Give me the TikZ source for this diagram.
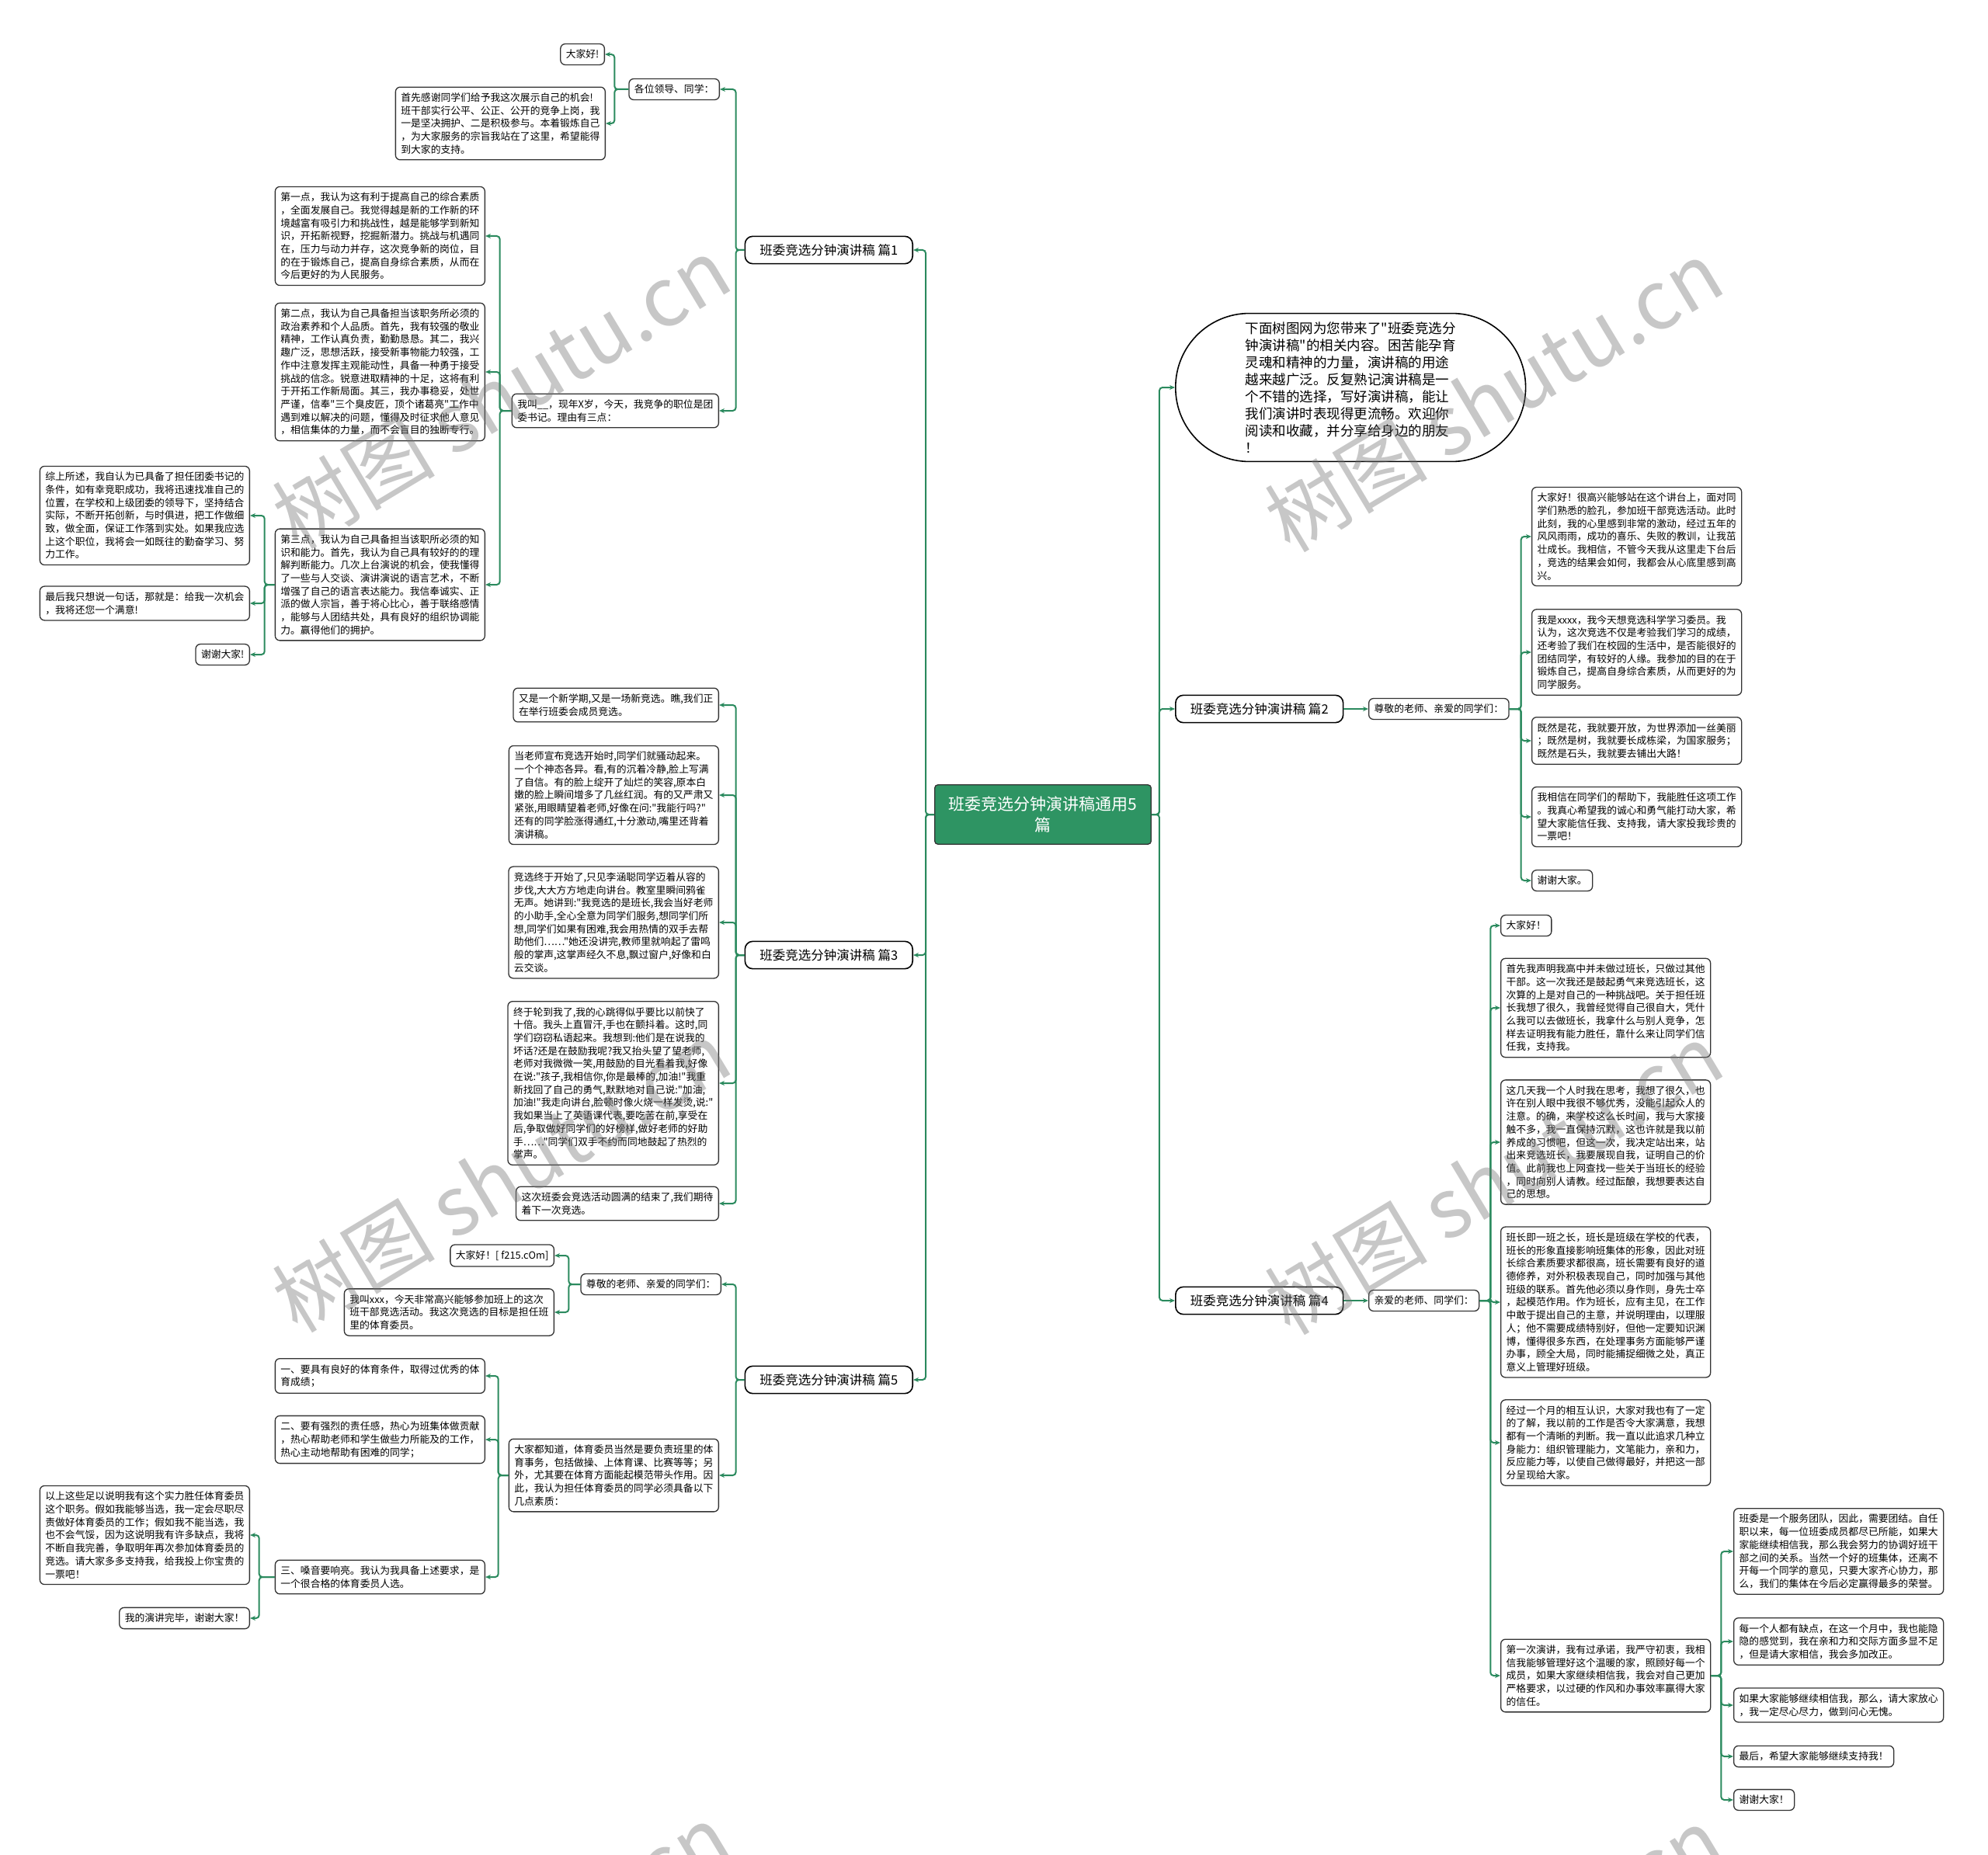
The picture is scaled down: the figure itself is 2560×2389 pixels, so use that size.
\documentclass[tikz,border=0pt]{standalone}
\usepackage{fontspec}
\setmainfont{Noto Sans CJK SC}[Ligatures=TeXOff]
\usepackage{tikz}
\usetikzlibrary{arrows.meta}
\definecolor{mapgreen}{HTML}{2B8A5E}
\definecolor{rootgreen}{HTML}{2E9463}
\definecolor{boxline}{HTML}{333333}
\tikzset{
  root/.style={rounded corners=4pt, draw=boxline, line width=1.3pt, fill=rootgreen,
    text=white, align=center, inner xsep=18pt, inner ysep=15pt, font=\fontsize{21}{27}\selectfont},
  topic/.style={rounded corners=10pt, draw=black, line width=1.6pt, fill=white,
    inner xsep=19pt, inner ysep=10pt, font=\fontsize{16.5}{20}\selectfont},
  intro/.style={rounded corners=95pt, draw=black, line width=1.6pt, fill=white,
    align=left, inner xsep=90pt, inner ysep=11pt, font=\fontsize{17.5}{22}\selectfont},
  leaf/.style={rounded corners=6pt, draw=boxline, line width=1.3pt, fill=white,
    align=left, inner xsep=7pt, inner ysep=7.5pt, font=\fontsize{12.8}{16.7}\selectfont},
  link/.style={-{Stealth[length=7pt,width=6pt]}, line width=2pt, draw=mapgreen, rounded corners=4pt},
  wmark/.style={rotate=31, text=black!55, text opacity=0.4, font=\fontsize{105}{110}\selectfont},
}

\begin{document}
\begin{tikzpicture}[x=1pt,y=-1pt]
\useasboundingbox (0,0) rectangle (2560,2389);

% ---------- centre ----------
\node[root] (root) at (1343,1049) {班委竞选分钟演讲稿通用5\\篇};
\node[topic, anchor=east] (p1) at (1176,322) {班委竞选分钟演讲稿 篇1};
\node[topic, anchor=east] (p3) at (1176,1230) {班委竞选分钟演讲稿 篇3};
\node[topic, anchor=east] (p5) at (1176,1777) {班委竞选分钟演讲稿 篇5};
\node[intro, anchor=west] (intro) at (1513,499) {下面树图网为您带来了"班委竞选分\\钟演讲稿"的相关内容。困苦能孕育\\灵魂和精神的力量，演讲稿的用途\\越来越广泛。反复熟记演讲稿是一\\个不错的选择，写好演讲稿，能让\\我们演讲时表现得更流畅。欢迎你\\阅读和收藏，并分享给身边的朋友\\！};
\node[topic, anchor=west] (p2) at (1513,913) {班委竞选分钟演讲稿 篇2};
\node[topic, anchor=west] (p4) at (1513,1675) {班委竞选分钟演讲稿 篇4};
\foreach \c in {p1,p3,p5}
  \draw[link] (root.west) -- ++(-11,0) |- (\c.east);
\foreach \c in {intro,p2,p4}
  \draw[link] (root.east) -- ++(10,0) |- (\c.west);

% ---------- 篇1 ----------
\node[leaf, anchor=east] (p1a) at (927,115) {各位领导、同学：};
\node[leaf, anchor=east] (p1a1) at (779,70) {大家好!};
\node[leaf, anchor=east] (p1a2) at (780,159) {首先感谢同学们给予我这次展示自己的机会!\\班干部实行公平、公正、公开的竞争上岗，我\\一是坚决拥护、二是积极参与。本着锻炼自己\\，为大家服务的宗旨我站在了这里，希望能得\\到大家的支持。};
\node[leaf, anchor=east] (p1b) at (926,529) {我叫\_\_，现年X岁，今天，我竞争的职位是团\\委书记。理由有三点：};
\node[leaf, anchor=east] (p1b1) at (625,304) {第一点，我认为这有利于提高自己的综合素质\\，全面发展自己。我觉得越是新的工作新的环\\境越富有吸引力和挑战性，越是能够学到新知\\识，开拓新视野，挖掘新潜力。挑战与机遇同\\在，压力与动力并存，这次竞争新的岗位，目\\的在于锻炼自己，提高自身综合素质，从而在\\今后更好的为人民服务。};
\node[leaf, anchor=east] (p1b2) at (625,479) {第二点，我认为自己具备担当该职务所必须的\\政治素养和个人品质。首先，我有较强的敬业\\精神，工作认真负责，勤勤恳恳。其二，我兴\\趣广泛，思想活跃，接受新事物能力较强，工\\作中注意发挥主观能动性，具备一种勇于接受\\挑战的信念。锐意进取精神的十足，这将有利\\于开拓工作新局面。其三，我办事稳妥，处世\\严谨，信奉"三个臭皮匠，顶个诸葛亮"工作中\\遇到难以解决的问题，懂得及时征求他人意见\\，相信集体的力量，而不会盲目的独断专行。};
\node[leaf, anchor=east] (p1b3) at (625,753) {第三点，我认为自己具备担当该职所必须的知\\识和能力。首先，我认为自己具有较好的的理\\解判断能力。几次上台演说的机会，使我懂得\\了一些与人交谈、演讲演说的语言艺术，不断\\增强了自己的语言表达能力。我信奉诚实、正\\派的做人宗旨，善于将心比心，善于联络感情\\，能够与人团结共处，具有良好的组织协调能\\力。赢得他们的拥护。};
\node[leaf, anchor=east] (p1c1) at (322,664) {综上所述，我自认为已具备了担任团委书记的\\条件，如有幸竞职成功，我将迅速找准自己的\\位置，在学校和上级团委的领导下，坚持结合\\实际，不断开拓创新，与时俱进，把工作做细\\致，做全面，保证工作落到实处。如果我应选\\上这个职位，我将会一如既往的勤奋学习、努\\力工作。};
\node[leaf, anchor=east] (p1c2) at (322,777) {最后我只想说一句话，那就是：给我一次机会\\，我将还您一个满意!};
\node[leaf, anchor=east] (p1c3) at (322,843) {谢谢大家!};
\foreach \c in {p1a,p1b}
  \draw[link] (p1.west) -- ++(-11,0) |- (\c.east);
\foreach \c in {p1a1,p1a2}
  \draw[link] (p1a.west) -- ++(-18,0) |- (\c.east);
\foreach \c in {p1b1,p1b2,p1b3}
  \draw[link] (p1b.west) -- ++(-15,0) |- (\c.east);
\foreach \c in {p1c1,p1c2,p1c3}
  \draw[link] (p1b3.west) -- ++(-13,0) |- (\c.east);

% ---------- 篇3 ----------
\node[leaf, anchor=east] (p3a) at (926,908) {又是一个新学期,又是一场新竞选。瞧,我们正\\在举行班委会成员竞选。};
\node[leaf, anchor=east] (p3b) at (926,1024) {当老师宣布竞选开始时,同学们就骚动起来。\\一个个神态各异。看,有的沉着冷静,脸上写满\\了自信。有的脸上绽开了灿烂的笑容,原本白\\嫩的脸上瞬间增多了几丝红润。有的又严肃又\\紧张,用眼睛望着老师,好像在问:"我能行吗?"\\还有的同学脸涨得通红,十分激动,嘴里还背着\\演讲稿。};
\node[leaf, anchor=east] (p3c) at (926,1188) {竞选终于开始了,只见李涵聪同学迈着从容的\\步伐,大大方方地走向讲台。教室里瞬间鸦雀\\无声。她讲到:"我竞选的是班长,我会当好老师\\的小助手,全心全意为同学们服务,想同学们所\\想,同学们如果有困难,我会用热情的双手去帮\\助他们……"她还没讲完,教师里就响起了雷鸣\\般的掌声,这掌声经久不息,飘过窗户,好像和白\\云交谈。};
\node[leaf, anchor=east] (p3d) at (926,1395) {终于轮到我了,我的心跳得似乎要比以前快了\\十倍。我头上直冒汗,手也在颤抖着。这时,同\\学们窃窃私语起来。我想到:他们是在说我的\\坏话?还是在鼓励我呢?我又抬头望了望老师,\\老师对我微微一笑,用鼓励的目光看着我,好像\\在说:"孩子,我相信你,你是最棒的,加油!"我重\\新找回了自己的勇气,默默地对自己说:"加油,\\加油!"我走向讲台,脸顿时像火烧一样发烫,说:"\\我如果当上了英语课代表,要吃苦在前,享受在\\后,争取做好同学们的好榜样,做好老师的好助\\手……"同学们双手不约而同地鼓起了热烈的\\掌声。};
\node[leaf, anchor=east] (p3e) at (926,1550) {这次班委会竞选活动圆满的结束了,我们期待\\着下一次竞选。};
\foreach \c in {p3a,p3b,p3c,p3d,p3e}
  \draw[link] (p3.west) -- ++(-11,0) |- (\c.east);

% ---------- 篇5 ----------
\node[leaf, anchor=east] (p5a) at (929,1654) {尊敬的老师、亲爱的同学们：};
\node[leaf, anchor=east] (p5a1) at (714,1617) {大家好！[ f215.cOm]};
\node[leaf, anchor=east] (p5a2) at (714,1690) {我叫xxx，今天非常高兴能够参加班上的这次\\班干部竞选活动。我这次竞选的目标是担任班\\里的体育委员。};
\node[leaf, anchor=east] (p5b) at (926,1900) {大家都知道，体育委员当然是要负责班里的体\\育事务，包括做操、上体育课、比赛等等；另\\外，尤其要在体育方面能起模范带头作用。因\\此，我认为担任体育委员的同学必须具备以下\\几点素质：};
\node[leaf, anchor=east] (p5b1) at (625,1772) {一、要具有良好的体育条件，取得过优秀的体\\育成绩；};
\node[leaf, anchor=east] (p5b2) at (625,1854) {二、要有强烈的责任感，热心为班集体做贡献\\，热心帮助老师和学生做些力所能及的工作，\\热心主动地帮助有困难的同学；};
\node[leaf, anchor=east] (p5b3) at (625,2031) {三、嗓音要响亮。我认为我具备上述要求，是\\一个很合格的体育委员人选。};
\node[leaf, anchor=east] (p5c1) at (322,1977) {以上这些足以说明我有这个实力胜任体育委员\\这个职务。假如我能够当选，我一定会尽职尽\\责做好体育委员的工作；假如我不能当选，我\\也不会气馁，因为这说明我有许多缺点，我将\\不断自我完善，争取明年再次参加体育委员的\\竞选。请大家多多支持我，给我投上你宝贵的\\一票吧！};
\node[leaf, anchor=east] (p5c2) at (322,2084) {我的演讲完毕，谢谢大家！};
\foreach \c in {p5a,p5b}
  \draw[link] (p5.west) -- ++(-11,0) |- (\c.east);
\foreach \c in {p5a1,p5a2}
  \draw[link] (p5a.west) -- ++(-15,0) |- (\c.east);
\foreach \c in {p5b1,p5b2,p5b3}
  \draw[link] (p5b.west) -- ++(-13,0) |- (\c.east);
\foreach \c in {p5c1,p5c2}
  \draw[link] (p5b3.west) -- ++(-20,0) |- (\c.east);

% ---------- 篇2 ----------
\node[leaf, anchor=west] (p2a) at (1762,913) {尊敬的老师、亲爱的同学们：};
\node[leaf, anchor=west] (p2a1) at (1972,691) {大家好！很高兴能够站在这个讲台上，面对同\\学们熟悉的脸孔，参加班干部竞选活动。此时\\此刻，我的心里感到非常的激动，经过五年的\\风风雨雨，成功的喜乐、失败的教训，让我茁\\壮成长。我相信，不管今天我从这里走下台后\\，竞选的结果会如何，我都会从心底里感到高\\兴。};
\node[leaf, anchor=west] (p2a2) at (1972,840) {我是xxxx，我今天想竞选科学学习委员。我\\认为，这次竞选不仅是考验我们学习的成绩，\\还考验了我们在校园的生活中，是否能很好的\\团结同学，有较好的人缘。我参加的目的在于\\锻炼自己，提高自身综合素质，从而更好的为\\同学服务。};
\node[leaf, anchor=west] (p2a3) at (1972,954) {既然是花，我就要开放，为世界添加一丝美丽\\；既然是树，我就要长成栋梁，为国家服务；\\既然是石头，我就要去铺出大路！};
\node[leaf, anchor=west] (p2a4) at (1972,1052) {我相信在同学们的帮助下，我能胜任这项工作\\。我真心希望我的诚心和勇气能打动大家，希\\望大家能信任我、支持我，请大家投我珍贵的\\一票吧！};
\node[leaf, anchor=west] (p2a5) at (1972,1134) {谢谢大家。};
\draw[link] (p2.east) -- (p2a.west);
\foreach \c in {p2a1,p2a2,p2a3,p2a4,p2a5}
  \draw[link] (p2a.east) -- ++(15,0) |- (\c.west);

% ---------- 篇4 ----------
\node[leaf, anchor=west] (p4a) at (1762,1675) {亲爱的老师、同学们：};
\node[leaf, anchor=west] (p4a1) at (1932,1192) {大家好！};
\node[leaf, anchor=west] (p4a2) at (1932,1298) {首先我声明我高中并未做过班长，只做过其他\\干部。这一次我还是鼓起勇气来竞选班长，这\\次算的上是对自己的一种挑战吧。关于担任班\\长我想了很久，我曾经觉得自己很自大，凭什\\么我可以去做班长，我拿什么与别人竞争，怎\\样去证明我有能力胜任，靠什么来让同学们信\\任我，支持我。};
\node[leaf, anchor=west] (p4a3) at (1932,1471) {这几天我一个人时我在思考，我想了很久，也\\许在别人眼中我很不够优秀，没能引起众人的\\注意。的确，来学校这么长时间，我与大家接\\触不多，我一直保持沉默，这也许就是我以前\\养成的习惯吧，但这一次，我决定站出来，站\\出来竞选班长，我要展现自我，证明自己的价\\值。此前我也上网查找一些关于当班长的经验\\，同时向别人请教。经过酝酿，我想要表达自\\己的思想。};
\node[leaf, anchor=west] (p4a4) at (1932,1677) {班长即一班之长，班长是班级在学校的代表，\\班长的形象直接影响班集体的形象，因此对班\\长综合素质要求都很高，班长需要有良好的道\\德修养，对外积极表现自己，同时加强与其他\\班级的联系。首先他必须以身作则，身先士卒\\，起模范作用。作为班长，应有主见，在工作\\中敢于提出自己的主意，并说明理由，以理服\\人；他不需要成绩特别好，但他一定要知识渊\\博，懂得很多东西，在处理事务方面能够严谨\\办事，顾全大局，同时能捕捉细微之处，真正\\意义上管理好班级。};
\node[leaf, anchor=west] (p4a5) at (1932,1858) {经过一个月的相互认识，大家对我也有了一定\\的了解，我以前的工作是否令大家满意，我想\\都有一个清晰的判断。我一直以此追求几种立\\身能力：组织管理能力，文笔能力，亲和力，\\反应能力等，以使自己做得最好，并把这一部\\分呈现给大家。};
\node[leaf, anchor=west] (p4a6) at (1932,2158) {第一次演讲，我有过承诺，我严守初衷，我相\\信我能够管理好这个温暖的家，照顾好每一个\\成员，如果大家继续相信我，我会对自己更加\\严格要求，以过硬的作风和办事效率赢得大家\\的信任。};
\node[leaf, anchor=west] (p4b1) at (2232,1998) {班委是一个服务团队，因此，需要团结。自任\\职以来，每一位班委成员都尽已所能，如果大\\家能继续相信我，那么我会努力的协调好班干\\部之间的关系。当然一个好的班集体，还离不\\开每一个同学的意见，只要大家齐心协力，那\\么，我们的集体在今后必定赢得最多的荣誉。};
\node[leaf, anchor=west] (p4b2) at (2232,2114) {每一个人都有缺点，在这一个月中，我也能隐\\隐的感觉到，我在亲和力和交际方面多显不足\\，但是请大家相信，我会多加改正。};
\node[leaf, anchor=west] (p4b3) at (2232,2196) {如果大家能够继续相信我，那么，请大家放心\\，我一定尽心尽力，做到问心无愧。};
\node[leaf, anchor=west] (p4b4) at (2232,2262) {最后，希望大家能够继续支持我！};
\node[leaf, anchor=west] (p4b5) at (2232,2318) {谢谢大家！};
\draw[link] (p4.east) -- (p4a.west);
\foreach \c in {p4a1,p4a2,p4a3,p4a4,p4a5,p4a6}
  \draw[link] (p4a.east) -- ++(14,0) |- (\c.west);
\foreach \c in {p4b1,p4b2,p4b3,p4b4,p4b5}
  \draw[link] (p4a6.east) -- ++(13,0) |- (\c.west);

% watermark
\foreach \n/\x/\y in {1/645/506, 2/1923/510, 3/645/1515, 4/1923/1518, 5/645/2524, 6/1923/2528}
  \node[wmark] (wm\n) at (\x,\y) {树图 shutu.cn};
\end{tikzpicture}
\end{document}
